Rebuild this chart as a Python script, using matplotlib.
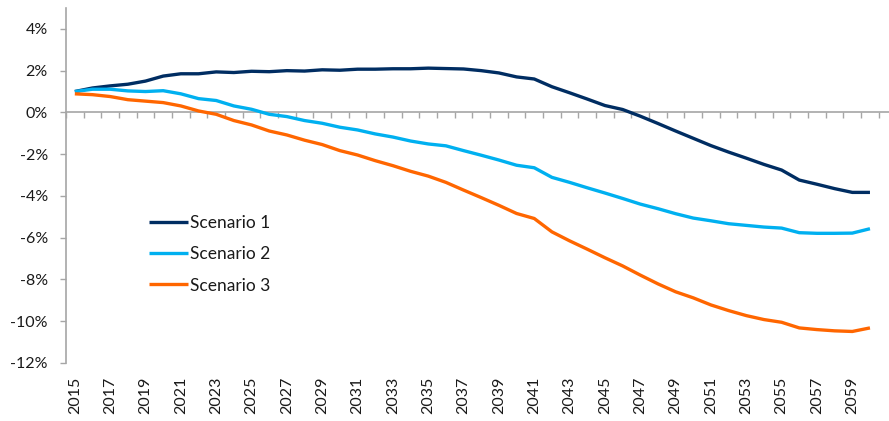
import matplotlib
matplotlib.use("Agg")
import matplotlib.pyplot as plt
from matplotlib.ticker import FuncFormatter

years = list(range(2015, 2061))

scenario1 = [1.00, 1.17, 1.27, 1.35, 1.50, 1.74, 1.85, 1.85, 1.94, 1.91,
             1.97, 1.95, 2.00, 1.98, 2.04, 2.02, 2.07, 2.07, 2.09, 2.09,
             2.12, 2.10, 2.08, 2.00, 1.89, 1.70, 1.60, 1.23, 0.94, 0.64,
             0.33, 0.14, -0.18, -0.53, -0.89, -1.24, -1.59, -1.90, -2.19, -2.49,
             -2.76, -3.24, -3.44, -3.65, -3.83, -3.83]

scenario2 = [1.00, 1.11, 1.11, 1.03, 1.00, 1.04, 0.89, 0.66, 0.57, 0.31,
             0.15, -0.09, -0.20, -0.39, -0.52, -0.71, -0.84, -1.03, -1.18, -1.37,
             -1.51, -1.60, -1.83, -2.05, -2.28, -2.53, -2.65, -3.11, -3.35, -3.61,
             -3.86, -4.12, -4.39, -4.61, -4.85, -5.06, -5.19, -5.33, -5.41, -5.49,
             -5.54, -5.76, -5.79, -5.79, -5.78, -5.57]

scenario3 = [0.89, 0.85, 0.76, 0.61, 0.54, 0.47, 0.31, 0.07, -0.09, -0.39,
             -0.60, -0.89, -1.08, -1.33, -1.54, -1.83, -2.04, -2.31, -2.55, -2.82,
             -3.05, -3.35, -3.72, -4.08, -4.45, -4.84, -5.08, -5.72, -6.15, -6.55,
             -6.96, -7.35, -7.79, -8.21, -8.59, -8.88, -9.22, -9.49, -9.73, -9.92,
             -10.05, -10.32, -10.40, -10.46, -10.49, -10.32]

series_names = ["Scenario 1", "Scenario 2", "Scenario 3"]
series_colors = ["#002D62", "#00B0F0", "#FF6600"]
y_ticks = [-12, -10, -8, -6, -4, -2, 0, 2, 4]

plt.rcParams['font.family'] = ['Lato', 'DejaVu Sans']

W, H = 889, 421
fig = plt.figure(figsize=(W / 100, H / 100), dpi=100)
ax = fig.add_axes([66 / W, 1 - 363 / H, (W - 66) / W, (363 - 8) / H])

idx = list(range(len(years)))
for vals, name, col in zip([scenario1, scenario2, scenario3], series_names, series_colors):
    ax.plot(idx, vals, color=col, lw=2.4, label=name, solid_capstyle='butt')

ymin, ymax = -12, 5
ax.set_ylim(ymin, ymax)
ax.set_xlim(-0.5, 45.5 + 10.2 / 17.67)

axis_gray = "#A6A6A6"
ax.spines['top'].set_visible(False)
ax.spines['right'].set_visible(False)
ax.spines['bottom'].set_visible(False)
ax.spines['left'].set_color(axis_gray)
ax.spines['left'].set_linewidth(1.2)

ax.set_yticks(y_ticks)
ax.yaxis.set_major_formatter(FuncFormatter(lambda v, p: f"{v:.0f}%"))
ax.tick_params(axis='y', length=4, width=1, color=axis_gray, labelsize=11.5,
               labelcolor="#1a1a1a", pad=9)

ax.set_xticks(idx[::2])
ax.set_xticklabels([str(y) for y in years[::2]], rotation=90, va='top', ha='center')
ax.tick_params(axis='x', length=0, labelsize=11.5, labelcolor="#1a1a1a", pad=10)

# category axis crossing at 0%
sec = ax.secondary_xaxis((0 - ymin) / (ymax - ymin))
sec.set_xticks([i - 0.5 for i in range(len(years) + 1)])
sec.set_xticklabels([])
sec.xaxis.set_ticks_position('bottom')
sec.tick_params(axis='x', which='both', direction='out', length=4, width=1,
                color=axis_gray, bottom=True, top=False)
for s in ['top', 'bottom']:
    sec.spines[s].set_color(axis_gray)
    sec.spines[s].set_linewidth(1.2)

leg = ax.legend(loc='upper left', bbox_to_anchor=(149 / W, 1 - 215 / H),
                bbox_transform=fig.transFigure, frameon=False, fontsize=12.5,
                handlelength=2.25, handletextpad=0.1, labelspacing=0.88,
                borderpad=0, borderaxespad=0)
for t in leg.get_texts():
    t.set_color("#1a1a1a")

fig.savefig("out.png", dpi=100)
